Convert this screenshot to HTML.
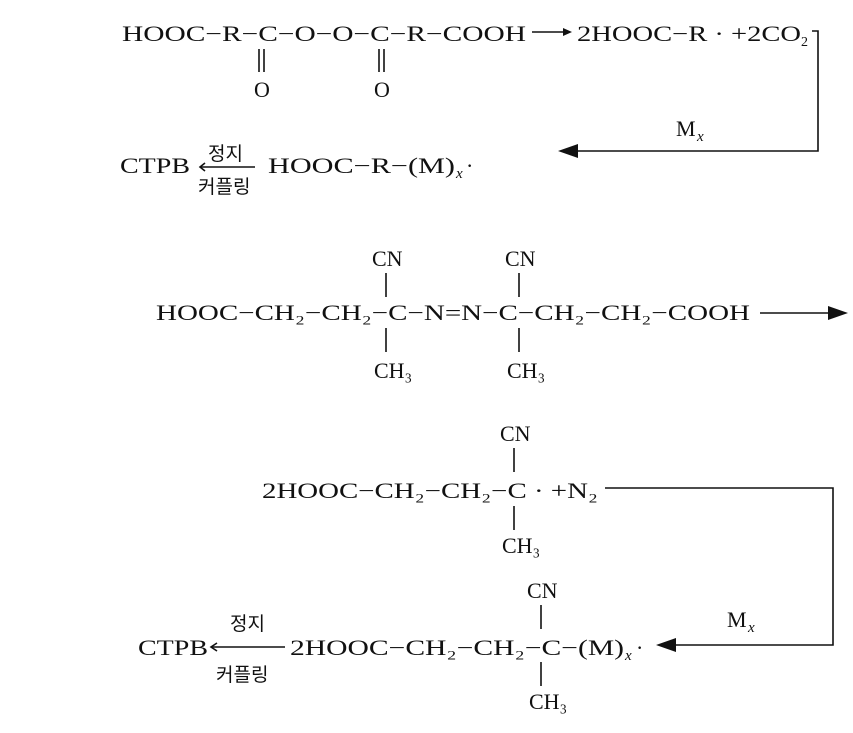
<!DOCTYPE html>
<html><head><meta charset="utf-8"><style>
html,body{margin:0;padding:0;background:#fff}
svg{display:block}
text{font-family:"Liberation Serif","Noto Serif CJK SC",serif;font-size:22px;fill:#111}
.k{font-family:"Liberation Sans","Noto Sans CJK KR",sans-serif;font-size:19px}
line,path{stroke:#111;stroke-width:1.6;fill:none}
.h{fill:#111;stroke:none}
</style></head><body>
<svg width="853" height="733" viewBox="0 0 853 733">
<!-- Row 1 -->
<text x="122" y="41" textLength="404" lengthAdjust="spacingAndGlyphs">HOOC−R−C−O−O−C−R−COOH</text>
<line x1="259" y1="49" x2="259" y2="72"/><line x1="264" y1="49" x2="264" y2="72"/>
<line x1="379" y1="49" x2="379" y2="72"/><line x1="384" y1="49" x2="384" y2="72"/>
<text x="254" y="97">O</text><text x="374" y="97">O</text>
<line x1="532" y1="32" x2="566" y2="32"/><path class="h" d="M572 32 L563 28 L563 36 Z"/>
<text x="577" y="41" textLength="224" lengthAdjust="spacingAndGlyphs">2HOOC−R · +2CO</text>
<text x="801" y="46" style="font-size:14px">2</text>
<path d="M812 31 L818 31 L818 151 L575 151"/>
<path class="h" d="M558 151 L578 144 L578 158 Z"/>
<text x="676" y="136">M</text><text x="697" y="141" style="font-size:15px;font-style:italic">x</text>
<!-- Row 2 -->
<text x="120" y="173" textLength="70" lengthAdjust="spacingAndGlyphs">CTPB</text>
<text class="k" x="208" y="160">정지</text>
<line x1="201" y1="167" x2="255" y2="167"/><path d="M205 163 L200 167 L205 171"/>
<text class="k" x="198" y="193">커플링</text>
<text x="268" y="173" textLength="187" lengthAdjust="spacingAndGlyphs">HOOC−R−(M)</text>
<text x="456" y="178" style="font-size:15px;font-style:italic">x</text>
<text x="466" y="173">·</text>
<!-- Row 3 -->
<text x="372" y="266">CN</text><text x="505" y="266">CN</text>
<line x1="386" y1="273" x2="386" y2="297"/><line x1="519" y1="273" x2="519" y2="297"/>
<text x="156" y="320" textLength="594" lengthAdjust="spacingAndGlyphs">HOOC−CH₂−CH₂−C−N=N−C−CH₂−CH₂−COOH</text>
<line x1="386" y1="328" x2="386" y2="352"/><line x1="519" y1="328" x2="519" y2="352"/>
<text x="374" y="378">CH₃</text><text x="507" y="378">CH₃</text>
<line x1="760" y1="313" x2="830" y2="313"/><path class="h" d="M848 313 L828 306 L828 320 Z"/>
<!-- Row 4 -->
<text x="500" y="441">CN</text>
<line x1="514" y1="448" x2="514" y2="472"/>
<text x="262" y="498" textLength="336" lengthAdjust="spacingAndGlyphs">2HOOC−CH₂−CH₂−C · +N₂</text>
<line x1="514" y1="506" x2="514" y2="530"/>
<text x="502" y="553">CH₃</text>
<path d="M605 488 L833 488 L833 645 L673 645"/>
<path class="h" d="M656 645 L676 638 L676 652 Z"/>
<text x="727" y="627">M</text><text x="748" y="632" style="font-size:15px;font-style:italic">x</text>
<!-- Row 5 -->
<text x="527" y="598">CN</text>
<line x1="541" y1="605" x2="541" y2="629"/>
<text x="138" y="655" textLength="70" lengthAdjust="spacingAndGlyphs">CTPB</text>
<text class="k" x="230" y="630">정지</text>
<line x1="212" y1="647" x2="285" y2="647"/><path d="M217 643 L211 647 L217 651"/>
<text class="k" x="216" y="681">커플링</text>
<text x="290" y="655" textLength="334" lengthAdjust="spacingAndGlyphs">2HOOC−CH₂−CH₂−C−(M)</text>
<text x="625" y="660" style="font-size:15px;font-style:italic">x</text>
<text x="636" y="655">·</text>
<line x1="541" y1="662" x2="541" y2="686"/>
<text x="529" y="709">CH₃</text>
</svg>
</body></html>
